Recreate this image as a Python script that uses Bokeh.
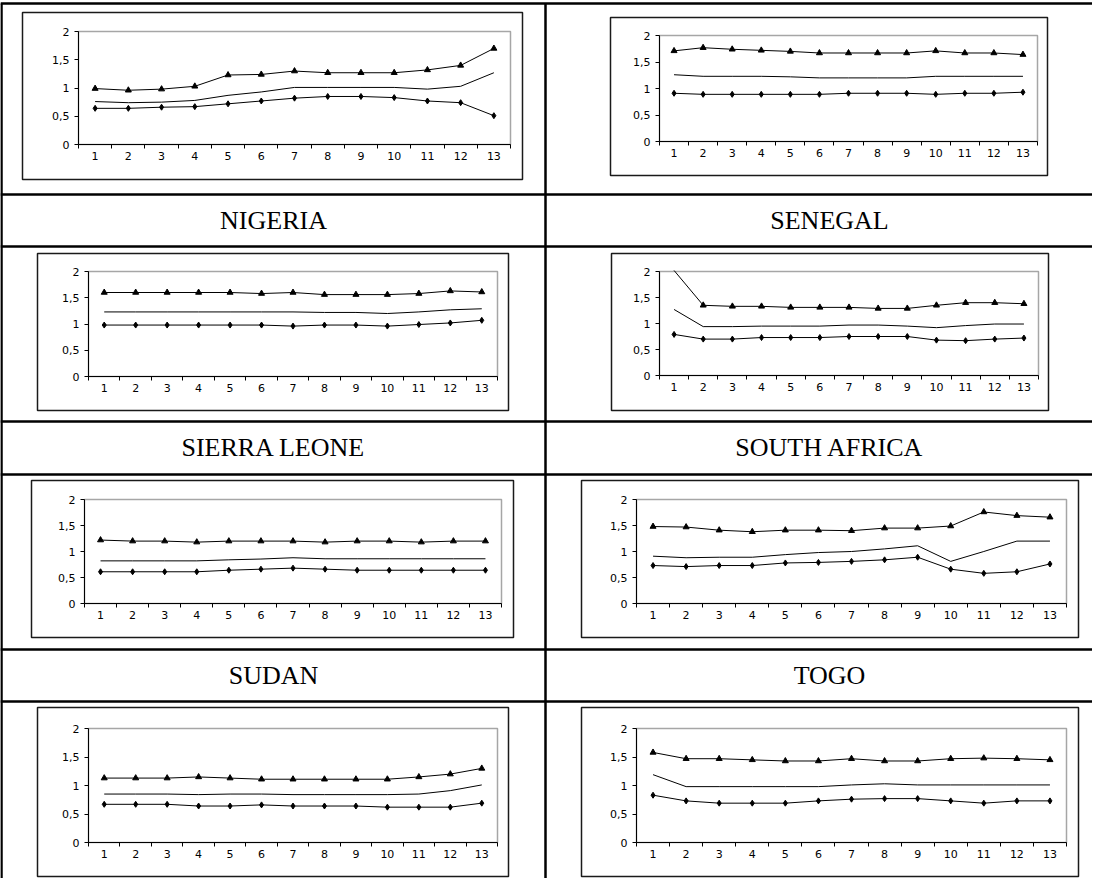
from bokeh.plotting import figure
from bokeh.models import Range1d, LinearAxis, FixedTicker, CustomJSTickFormatter
from bokeh.core.properties import value
from bokeh.embed import file_html
from bokeh.resources import INLINE

# ---------------- data ----------------
periods = list(range(1, 14))
y_ticks = [0, 0.5, 1, 1.5, 2]
countries = ["NIGERIA", "SENEGAL", "SIERRA LEONE", "SOUTH AFRICA", "SUDAN", "TOGO"]

chart1_upper = [0.99, 0.96, 0.98, 1.03, 1.23, 1.24, 1.30, 1.27, 1.27, 1.27, 1.32, 1.40, 1.70]
chart1_middle = [0.76, 0.74, 0.75, 0.78, 0.87, 0.93, 1.01, 1.01, 1.01, 1.01, 0.98, 1.03, 1.27]
chart1_lower = [0.64, 0.64, 0.66, 0.67, 0.72, 0.77, 0.82, 0.85, 0.85, 0.83, 0.77, 0.74, 0.51]

chart2_upper = [1.71, 1.77, 1.74, 1.72, 1.70, 1.67, 1.67, 1.67, 1.67, 1.71, 1.67, 1.67, 1.64]
chart2_middle = [1.26, 1.23, 1.23, 1.23, 1.22, 1.20, 1.20, 1.20, 1.20, 1.23, 1.23, 1.23, 1.23]
chart2_lower = [0.91, 0.89, 0.89, 0.89, 0.89, 0.89, 0.91, 0.91, 0.91, 0.89, 0.91, 0.91, 0.93]

chart3_upper = [1.60, 1.60, 1.60, 1.60, 1.60, 1.58, 1.60, 1.56, 1.56, 1.56, 1.58, 1.63, 1.61]
chart3_middle = [1.23, 1.23, 1.23, 1.23, 1.23, 1.23, 1.23, 1.22, 1.22, 1.20, 1.23, 1.27, 1.29]
chart3_lower = [0.98, 0.98, 0.98, 0.98, 0.98, 0.98, 0.96, 0.98, 0.98, 0.96, 0.99, 1.02, 1.07]

chart4_upper = [2.02, 1.35, 1.33, 1.33, 1.31, 1.31, 1.31, 1.29, 1.29, 1.35, 1.40, 1.40, 1.38]
chart4_middle = [1.27, 0.94, 0.94, 0.95, 0.95, 0.95, 0.97, 0.97, 0.95, 0.92, 0.96, 0.99, 0.99]
chart4_lower = [0.79, 0.70, 0.70, 0.73, 0.73, 0.73, 0.75, 0.75, 0.75, 0.68, 0.67, 0.70, 0.72]

chart5_upper = [1.22, 1.20, 1.20, 1.18, 1.20, 1.20, 1.20, 1.18, 1.20, 1.20, 1.18, 1.20, 1.20]
chart5_middle = [0.82, 0.82, 0.82, 0.82, 0.84, 0.855, 0.88, 0.86, 0.86, 0.86, 0.86, 0.86, 0.86]
chart5_lower = [0.61, 0.61, 0.61, 0.61, 0.64, 0.66, 0.68, 0.66, 0.64, 0.64, 0.64, 0.64, 0.64]

chart6_upper = [1.48, 1.47, 1.41, 1.38, 1.41, 1.41, 1.40, 1.45, 1.45, 1.49, 1.76, 1.69, 1.66]
chart6_middle = [0.91, 0.88, 0.89, 0.89, 0.94, 0.98, 1.00, 1.05, 1.11, 0.81, 1.00, 1.20, 1.20]
chart6_lower = [0.73, 0.71, 0.73, 0.73, 0.78, 0.79, 0.81, 0.84, 0.89, 0.66, 0.58, 0.61, 0.76]

chart7_upper = [1.13, 1.13, 1.13, 1.15, 1.13, 1.11, 1.11, 1.11, 1.11, 1.11, 1.15, 1.20, 1.30]
chart7_middle = [0.85, 0.85, 0.85, 0.84, 0.85, 0.85, 0.84, 0.84, 0.84, 0.84, 0.85, 0.91, 1.01]
chart7_lower = [0.67, 0.67, 0.67, 0.64, 0.64, 0.66, 0.64, 0.64, 0.64, 0.62, 0.62, 0.62, 0.69]

chart8_upper = [1.58, 1.47, 1.47, 1.45, 1.43, 1.43, 1.47, 1.43, 1.43, 1.47, 1.48, 1.47, 1.45]
chart8_middle = [1.19, 0.98, 0.98, 0.98, 0.98, 0.98, 1.01, 1.03, 1.01, 1.01, 1.01, 1.01, 1.01]
chart8_lower = [0.83, 0.73, 0.69, 0.69, 0.69, 0.73, 0.76, 0.77, 0.77, 0.73, 0.69, 0.73, 0.73]

series = [
    (chart1_upper, chart1_middle, chart1_lower),
    (chart2_upper, chart2_middle, chart2_lower),
    (chart3_upper, chart3_middle, chart3_lower),
    (chart4_upper, chart4_middle, chart4_lower),
    (chart5_upper, chart5_middle, chart5_lower),
    (chart6_upper, chart6_middle, chart6_lower),
    (chart7_upper, chart7_middle, chart7_lower),
    (chart8_upper, chart8_middle, chart8_lower),
]

# ---------------- layout (page pixels) ----------------
W, H = 1092, 878
PX0, PY0 = 8, 8
# chart area frame (l, r, t, b) and plot area (l, r, t, b)
layout = [
    dict(frame=(30, 530, 20, 187), plot=(86, 518, 39, 152)),
    dict(frame=(618, 1055, 25, 183), plot=(667, 1045, 43, 149)),
    dict(frame=(45, 516, 261, 418), plot=(96, 505, 279, 384)),
    dict(frame=(619, 1056, 261, 418), plot=(667, 1046, 279, 383)),
    dict(frame=(39, 521, 488, 645), plot=(92, 509, 507, 611)),
    dict(frame=(589, 1086, 488, 645), plot=(644, 1074, 507, 611)),
    dict(frame=(45, 516, 715, 884), plot=(96, 505, 736, 850)),
    dict(frame=(589, 1086, 715, 884), plot=(644, 1074, 736, 850)),
]
h_lines = [11, 202, 254, 429, 482, 657, 709]
v_lines = [9, 553]
label_pos = [(281, 228), (837, 228), (281, 455), (837, 455), (281, 683), (837, 683)]

p = figure(width=W, height=H, output_backend="svg", toolbar_location=None,
           x_axis_type=None, y_axis_type=None,
           x_range=Range1d(PX0, PX0 + W), y_range=Range1d(PY0 + H, PY0),
           min_border=0, outline_line_color=None)
p.background_fill_color = "white"
p.border_fill_color = "white"

# table grid
p.segment(x0=[PX0] * len(h_lines), x1=[PX0 + W] * len(h_lines), y0=h_lines, y1=h_lines,
          line_color="black", line_width=2.5)
p.segment(x0=v_lines, x1=v_lines, y0=[h_lines[0]] * 2, y1=[PY0 + H] * 2,
          line_color="black", line_width=2.5)

# country labels
p.text(x=[q[0] for q in label_pos], y=[q[1] for q in label_pos], text=countries,
       text_font=value("Liberation Serif"), text_font_size="26px",
       text_align="center", text_baseline="middle", text_color="black")

x_lo, x_hi = periods[0] - 0.5, periods[-1] + 0.5
y_lo, y_hi = y_ticks[0], y_ticks[-1]
bound_ticks = [c - 0.5 for c in periods] + [x_hi]

for k, (lay, (up, mid, low)) in enumerate(zip(layout, series)):
    fl, fr, ft, fb = lay["frame"]
    p.quad(left=fl, right=fr, top=ft, bottom=fb, fill_color=None,
           line_color="#1a1a1a", line_width=1.5)

    pl, pr, pt, pb = lay["plot"]
    kx = (pr - pl) / (x_hi - x_lo)
    xs = x_lo - (pl - PX0) / kx
    xe = xs + W / kx
    ky = (pb - pt) / (y_hi - y_lo)
    ys = y_lo - (PY0 + H - pb) / ky
    ye = ys + H / ky
    xn, yn = f"x{k}", f"y{k}"
    p.extra_x_ranges[xn] = Range1d(xs, xe)
    p.extra_y_ranges[yn] = Range1d(ys, ye)

    # plot area border (gray)
    p.quad(left=x_lo, right=x_hi, bottom=y_lo, top=y_hi, fill_color=None,
           line_color="#a6a6a6", line_width=1.5, x_range_name=xn, y_range_name=yn)

    # series
    for vals, marker in ((up, "triangle"), (mid, None), (low, "diamond")):
        p.line(periods, vals, line_color="black", line_width=1,
               x_range_name=xn, y_range_name=yn)
        if marker:
            mx = [c for c, v in zip(periods, vals) if y_lo <= v <= y_hi]
            my = [v for v in vals if y_lo <= v <= y_hi]
            p.scatter(mx, my, marker=marker, size=6 if marker == "triangle" else 6,
                      fill_color="black", line_color="black",
                      x_range_name=xn, y_range_name=yn)

    # x axis: tick marks at category boundaries
    xa = LinearAxis(x_range_name=xn, y_range_name=yn, fixed_location=y_lo,
                    bounds=(x_lo, x_hi), ticker=FixedTicker(ticks=bound_ticks),
                    formatter=CustomJSTickFormatter(code="return ''"))
    xa.axis_line_color = "black"
    xa.axis_line_width = 1
    xa.major_tick_line_color = "black"
    xa.major_tick_out = 4
    xa.major_tick_in = 0
    xa.minor_tick_line_color = None
    xa.major_label_text_font_size = "1px"
    p.add_layout(xa, "below")

    # x axis: category labels
    xl = LinearAxis(x_range_name=xn, y_range_name=yn, fixed_location=y_lo,
                    ticker=FixedTicker(ticks=periods))
    xl.axis_line_color = None
    xl.major_tick_line_color = None
    xl.minor_tick_line_color = None
    xl.major_tick_out = 0
    xl.major_tick_in = 0
    xl.major_label_standoff = 7
    xl.major_label_text_font = "DejaVu Sans"
    xl.major_label_text_font_size = "11px"
    xl.major_label_text_color = "black"
    p.add_layout(xl, "below")

    # y axis
    ya = LinearAxis(x_range_name=xn, y_range_name=yn, fixed_location=x_lo,
                    bounds=(y_lo, y_hi), ticker=FixedTicker(ticks=y_ticks),
                    formatter=CustomJSTickFormatter(code="return String(tick).replace('.', ',')"))
    ya.axis_line_color = "black"
    ya.axis_line_width = 1
    ya.major_tick_line_color = "black"
    ya.major_tick_out = 4
    ya.major_tick_in = 0
    ya.minor_tick_line_color = None
    ya.major_label_standoff = 5
    ya.major_label_text_font = "DejaVu Sans"
    ya.major_label_text_font_size = "11px"
    ya.major_label_text_color = "black"
    p.add_layout(ya, "left")

open("out.html", "w").write(file_html(p, INLINE))
